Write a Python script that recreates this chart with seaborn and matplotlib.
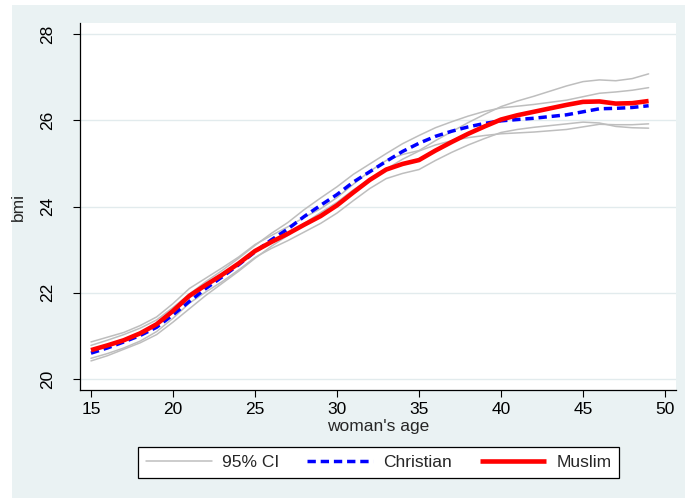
import matplotlib
matplotlib.use("Agg")
import matplotlib.pyplot as plt
import seaborn as sns
import pandas as pd
from matplotlib.patches import Rectangle
from matplotlib.lines import Line2D

# woman's age 15..49
ages = list(range(15, 50))

muslim = [20.67, 20.78, 20.90, 21.06, 21.27, 21.58, 21.93, 22.18, 22.42, 22.68,
          22.97, 23.18, 23.37, 23.58, 23.78, 24.03, 24.33, 24.62, 24.86, 24.99,
          25.08, 25.30, 25.50, 25.69, 25.86, 26.02, 26.12, 26.20, 26.28, 26.36,
          26.43, 26.44, 26.39, 26.40, 26.45]
muslim_hi = [20.86, 20.97, 21.08, 21.24, 21.44, 21.75, 22.10, 22.34, 22.58, 22.83,
             23.12, 23.33, 23.53, 23.75, 23.95, 24.21, 24.52, 24.82, 25.07, 25.21,
             25.30, 25.53, 25.74, 25.95, 26.14, 26.32, 26.45, 26.56, 26.68, 26.80,
             26.90, 26.94, 26.92, 26.97, 27.08]
muslim_lo = [20.48, 20.59, 20.72, 20.88, 21.10, 21.41, 21.76, 22.02, 22.26, 22.53,
             22.82, 23.03, 23.21, 23.41, 23.61, 23.85, 24.14, 24.42, 24.65, 24.77,
             24.86, 25.07, 25.26, 25.43, 25.58, 25.72, 25.79, 25.84, 25.88, 25.92,
             25.96, 25.94, 25.86, 25.83, 25.82]

christian = [20.60, 20.72, 20.86, 21.01, 21.20, 21.49, 21.80, 22.10, 22.37, 22.65,
             22.95, 23.23, 23.48, 23.77, 24.03, 24.28, 24.57, 24.81, 25.05, 25.28,
             25.47, 25.63, 25.75, 25.85, 25.93, 25.99, 26.02, 26.05, 26.09, 26.13,
             26.20, 26.27, 26.28, 26.30, 26.34]
christian_hi = [20.78, 20.90, 21.03, 21.18, 21.37, 21.66, 21.97, 22.26, 22.52, 22.80,
                23.10, 23.38, 23.63, 23.93, 24.20, 24.46, 24.75, 24.99, 25.23, 25.46,
                25.65, 25.83, 25.97, 26.10, 26.21, 26.29, 26.33, 26.37, 26.42, 26.47,
                26.55, 26.63, 26.66, 26.70, 26.76]
christian_lo = [20.42, 20.54, 20.69, 20.84, 21.03, 21.32, 21.63, 21.94, 22.22, 22.50,
                22.80, 23.08, 23.33, 23.61, 23.86, 24.10, 24.39, 24.63, 24.87, 25.10,
                25.29, 25.43, 25.53, 25.60, 25.65, 25.69, 25.71, 25.73, 25.76, 25.79,
                25.85, 25.91, 25.90, 25.90, 25.92]

x_ticks = [15, 20, 25, 30, 35, 40, 45, 50]
y_ticks = [20, 22, 24, 26, 28]

sns.set_style("white")
plt.rcParams['font.family'] = ['Liberation Sans', 'DejaVu Sans']

df = pd.DataFrame({
    'age': ages,
    'muslim': muslim, 'muslim_hi': muslim_hi, 'muslim_lo': muslim_lo,
    'christian': christian, 'christian_hi': christian_hi, 'christian_lo': christian_lo,
})

fig = plt.figure(figsize=(6.85, 4.98), dpi=100)
fig.patch.set_facecolor('white')
# Stata-like graph region
fig.patches.append(Rectangle((12 / 685, 0), 1 - 12 / 685, 1 - 5 / 498,
                             transform=fig.transFigure, facecolor='#EAF2F3',
                             edgecolor='none', zorder=-10))

ax = fig.add_axes([80 / 685, 1 - 390 / 498, 596 / 685, 367 / 498])
ax.set_facecolor('white')

ci_color = '#BEBEBE'
for col in ['christian_hi', 'christian_lo', 'muslim_hi', 'muslim_lo']:
    sns.lineplot(data=df, x='age', y=col, ax=ax, color=ci_color, lw=1.1, legend=False)
sns.lineplot(data=df, x='age', y='christian', ax=ax, color='#0000FF', lw=2.5,
             linestyle=(0, (2.4, 1.4)), legend=False)
sns.lineplot(data=df, x='age', y='muslim', ax=ax, color='#FF0000', lw=3.3,
             solid_capstyle='butt', legend=False)

ax.set_xlim(14.33, 50.67)
ax.set_ylim(19.745, 28.26)
ax.set_xticks(x_ticks)
ax.set_yticks(y_ticks)
ax.grid(axis='y', color='#E2EBED', lw=1)
ax.grid(axis='x', visible=False)
for side in ['top', 'right']:
    ax.spines[side].set_visible(False)
for side in ['left', 'bottom']:
    ax.spines[side].set_color('black')
    ax.spines[side].set_linewidth(0.9)

ax.tick_params(axis='both', which='major', direction='out', length=5, width=0.8,
               color='black', labelsize=12.5, labelcolor='black',
               left=True, bottom=True)
ax.tick_params(axis='x', pad=4)
ax.tick_params(axis='y', pad=13, labelrotation=90)
for lab in ax.get_yticklabels():
    lab.set_va('center')

ax.set_xlabel("woman's age", fontsize=12.5, labelpad=1)
ax.set_ylabel("bmi", fontsize=12.5, labelpad=10)

handles = [
    Line2D([], [], color=ci_color, lw=1.1),
    Line2D([], [], color='#0000FF', lw=2.5, linestyle=(0, (2.4, 1.4))),
    Line2D([], [], color='#FF0000', lw=3.3, solid_capstyle='butt'),
]
leg = fig.legend(handles, ['95% CI', 'Christian', 'Muslim'], ncol=3,
                 loc='center', bbox_to_anchor=(378.5 / 685, 1 - 462.5 / 498),
                 fontsize=12.5, frameon=True, fancybox=False, framealpha=1,
                 handlelength=3.8, handletextpad=0.6, columnspacing=1.6,
                 borderpad=0.45)
leg.get_frame().set_edgecolor('black')
leg.get_frame().set_linewidth(0.9)

fig.savefig('out.png', dpi=100)
